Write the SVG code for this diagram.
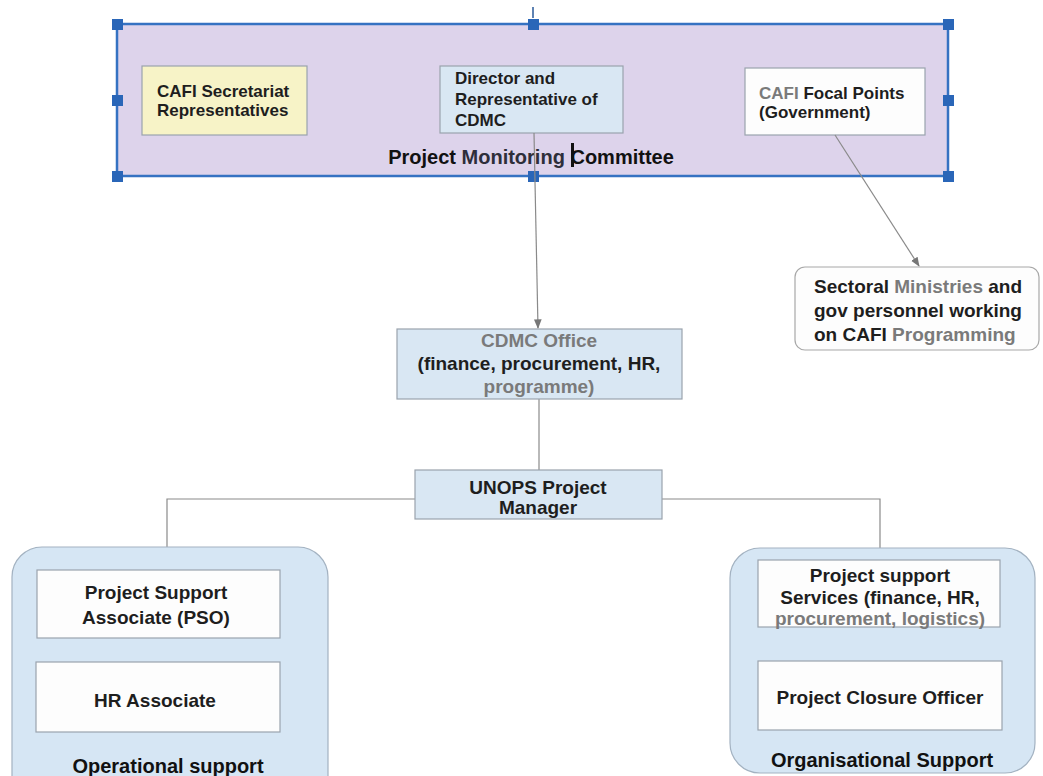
<svg xmlns="http://www.w3.org/2000/svg" width="1043" height="776" viewBox="0 0 1043 776">
<defs>
<style>
.t{font-family:"Liberation Sans",Arial,sans-serif;font-size:17px;font-weight:bold;fill:#1e1e1e}
.m{font-size:19px}
.g{fill:#7a7a7a}
.lbl{font-family:"Liberation Sans",Arial,sans-serif;font-size:20px;font-weight:bold;fill:#111}
.node{stroke:#9aa3ad;stroke-width:1.2}
.blue{fill:#d9e7f3}
.white{fill:#fdfdfd}
.grp{fill:#d6e6f4;stroke:#a3b2c1;stroke-width:1.2}
.conn{stroke:#8a8a8a;stroke-width:1.2;fill:none}
.h{fill:#2a66b8}
</style>
<marker id="arr" viewBox="0 0 10 10" refX="9" refY="5" markerWidth="8" markerHeight="8" orient="auto">
<path d="M0,1 L10,5 L0,9 z" fill="#777"/>
</marker>
</defs>
<rect width="1043" height="776" fill="#ffffff"/>

<g id="committee">
<rect x="117" y="24" width="831" height="152" fill="#ddd3eb" stroke="#3572c2" stroke-width="2.5"/>
<line x1="533" y1="7" x2="533" y2="18" stroke="#2a5a9a" stroke-width="1.5"/>
<rect class="h" x="112" y="19" width="11" height="11"/>
<rect class="h" x="528" y="19" width="11" height="11"/>
<rect class="h" x="943" y="19" width="11" height="11"/>
<rect class="h" x="112" y="95" width="11" height="11"/>
<rect class="h" x="943" y="95" width="11" height="11"/>
<rect class="h" x="112" y="171" width="11" height="11"/>
<rect class="h" x="528" y="171" width="11" height="11"/>
<rect class="h" x="943" y="171" width="11" height="11"/>
<text class="lbl" x="531" y="164" text-anchor="middle">Project <tspan fill="#2e2e3a">Monitoring</tspan> Committee</text>
<rect x="571" y="143" width="3" height="24" fill="#111"/>
</g>

<g id="cafi-secretariat">
<rect class="node" x="142" y="66" width="165" height="69" fill="#f7f3c7"/>
<text class="t" x="157" y="97">CAFI Secretariat</text>
<text class="t" x="157" y="116">Representatives</text>
</g>

<g id="director">
<rect class="node blue" x="440" y="66" width="183" height="67"/>
<text class="t" x="455" y="84">Director and</text>
<text class="t" x="455" y="105">Representative of</text>
<text class="t" x="455" y="126">CDMC</text>
</g>

<g id="focal-points">
<rect class="node white" x="745" y="68" width="180" height="67"/>
<text class="t" x="759" y="99"><tspan class="g">CAFI</tspan> Focal Points</text>
<text class="t" x="759" y="118">(Government)</text>
</g>

<g id="connectors">
<line class="conn" x1="534" y1="133" x2="538" y2="328" marker-end="url(#arr)"/>
<line class="conn" x1="835" y1="135" x2="919" y2="266" marker-end="url(#arr)"/>
<line class="conn" x1="539" y1="399" x2="539" y2="470"/>
<polyline class="conn" points="415,499 167,499 167,547"/>
<polyline class="conn" points="662,499 880,499 880,548"/>
</g>

<g id="sectoral">
<rect x="795" y="267" width="244" height="83" rx="10" fill="#fdfdfd" stroke="#a8a8a8" stroke-width="1.2"/>
<text class="t m" x="814" y="293">Sectoral <tspan class="g">Ministries</tspan> and</text>
<text class="t m" x="814" y="317">gov personnel working</text>
<text class="t m" x="814" y="341">on CAFI <tspan class="g">Programming</tspan></text>
</g>

<g id="cdmc-office">
<rect class="node blue" x="397" y="329" width="285" height="70"/>
<text class="t m" x="539" y="347" text-anchor="middle"><tspan class="g">CDMC  Office</tspan></text>
<text class="t m" x="539" y="370" text-anchor="middle">(finance, procurement, HR,</text>
<text class="t m" x="539" y="393" text-anchor="middle"><tspan class="g">programme)</tspan></text>
</g>

<g id="unops-pm">
<rect class="node blue" x="415" y="470" width="247" height="49"/>
<text class="t m" x="538" y="494" text-anchor="middle">UNOPS Project</text>
<text class="t m" x="538" y="514" text-anchor="middle">Manager</text>
</g>

<g id="operational-support">
<rect class="grp" x="12" y="547" width="316" height="260" rx="30"/>
<text class="lbl" x="168" y="773" text-anchor="middle">Operational support</text>
</g>

<g id="pso">
<rect class="node white" x="37" y="570" width="243" height="68"/>
<text class="t m" x="156" y="599" text-anchor="middle">Project Support</text>
<text class="t m" x="156" y="624" text-anchor="middle">Associate (PSO)</text>
</g>

<g id="hr-associate">
<rect class="node white" x="36" y="662" width="244" height="70"/>
<text class="t m" x="155" y="707" text-anchor="middle">HR Associate</text>
</g>

<g id="organisational-support">
<rect class="grp" x="730" y="548" width="305" height="225" rx="30"/>
<text class="lbl" x="882" y="767" text-anchor="middle">Organisational Support</text>
</g>

<g id="support-services">
<rect class="node white" x="758" y="560" width="242" height="67"/>
<text class="t m" x="880" y="582" text-anchor="middle">Project support</text>
<text class="t m" x="880" y="604" text-anchor="middle">Services  (finance, HR,</text>
<text class="t m" x="880" y="625" text-anchor="middle"><tspan class="g">procurement, logistics)</tspan></text>
</g>

<g id="closure-officer">
<rect class="node white" x="758" y="661" width="244" height="69"/>
<text class="t m" x="880" y="704" text-anchor="middle">Project Closure Officer</text>
</g>
</svg>
